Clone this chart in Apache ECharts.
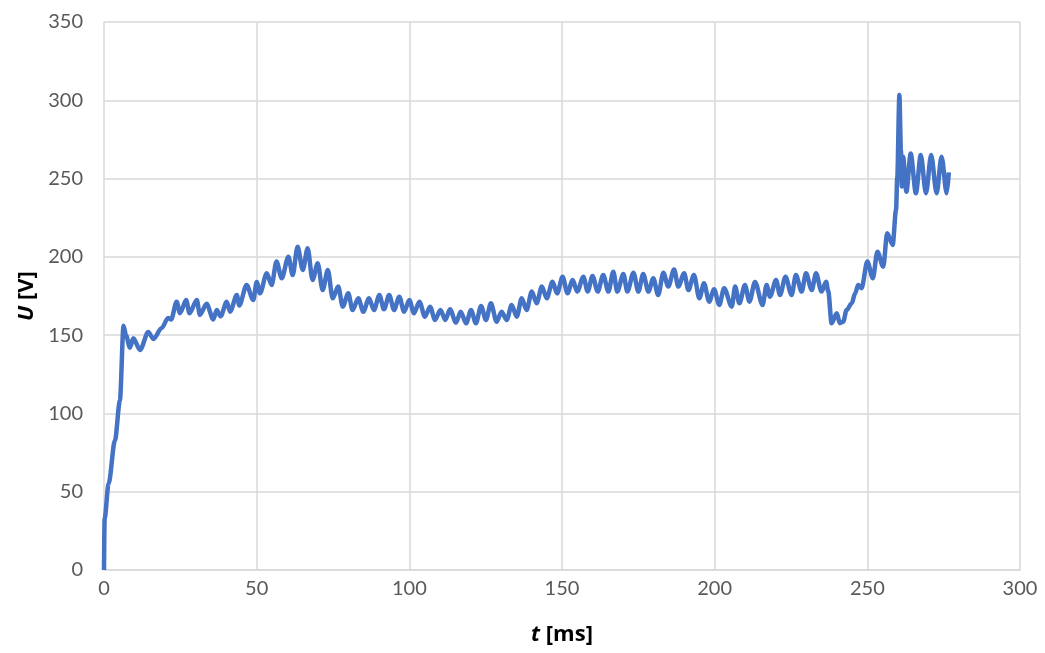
<!DOCTYPE html>
<html>
<head>
<meta charset="utf-8">
<script src="https://cdn.jsdelivr.net/npm/echarts@6/dist/echarts.min.js"></script>
<style>
html,body{margin:0;padding:0;background:#fff;}
#chart{width:1045px;height:653px;}
</style>
</head>
<body>
<div id="chart"></div>
<script>
// time in ms
const timeMs = [
0,0.2,1.5,3.6,5.2,6.4,7.2,8.5,9.6,11.8,14.5,16.2,18.9,21,22,23.8,24.9,26.9,28,30.4,31.4,33.6,35.8,36.9,38.2,40.2,41.3,43.5,44.3,46.7,48.9,
50,51.1,53.3,54.9,56.5,58.2,60.4,61.8,63.4,65.1,66.7,68.3,70,71.6,73.3,74.9,76.7,78.2,80,81.4,83.3,84.9,86.8,88.4,90.2,91.7,93.4,95,96.7,98.3,
100,101.5,103.3,105.1,106.8,108.4,110.2,111.8,113.3,115.3,116.8,118.6,120.2,121.8,123.5,125.1,126.7,128.6,130.2,131.9,133.5,135.2,136.8,138.4,140.1,141.7,143.4,145,146.9,148.4,
150.2,151.8,153.5,155,157,158.4,160,161.7,163.5,165.2,166.8,168.1,170.1,171.4,173.4,175,176.6,178.3,179.9,181.5,183.2,184.8,186.7,188.1,190,191.4,193.2,195,196.5,198.2,
199.8,201.5,203.1,205.6,206.7,208.1,209.9,211.4,213.2,215.7,217,218.1,220.1,221.4,223.2,225.2,226.6,228.5,229.9,231.8,233.2,235,236.5,237.2,238.3,240,241,242.1,243.2,244.9,246,247,248.1,
250,251.8,253.3,255.2,256.5,258.3,259.4,259.8,260.5,261,261.3,261.7,262.8,264.2,265.9,267.5,269.2,270.9,272.7,274.3,276,276.7
];
// voltage in V
const voltage = [
0,33,55,83,108,156,150,142,148,140.5,152,147.5,154.6,161,160,171.4,164,172.4,164,172.4,163,170,160,166,162,171.4,165,175.6,169,182,172.4,
184,176.7,189.5,182,197,186.3,200,188.4,206.5,191.6,205.5,185.2,195.9,178.8,191.6,173.5,181,168.2,176.7,166,173.5,165,173.5,166,175.6,166.5,175.6,166,174.6,165,
172.4,164,171.4,161.8,168.2,159.7,166,159.7,166.5,158,165,157.6,166,157.6,168.6,159.7,170.3,158.6,165,159.7,169.3,161.8,173.5,166,177.8,170.3,181,173.5,184.1,176.7,
187.3,176.7,185.2,177.8,187.3,177.8,187.8,177.8,188.4,177.8,190.5,177.8,189,177.8,189.9,177.8,189,177.8,186.3,175.6,189.9,181,192,181,189.5,178.8,188.4,173.5,183.1,171.4,
179.3,169.3,180,168.2,181,170.3,182,171.4,184,169.3,182,174.6,185.2,175.6,187.3,175.6,188.4,177.8,189.5,178.8,189.5,177.8,184.1,178,157.6,164,157.6,158.6,166,170.3,176.7,182,180,
197,186.3,203.3,193.7,215,207.6,230,251,303.4,268,245,264,241.6,266,240.6,265,240.6,265,240.6,264,240.6,254
];
const xTicks = [0,50,100,150,200,250,300];
const yTicks = [0,50,100,150,200,250,300,350];

const seriesData = timeMs.map((t,i)=>[t, voltage[i]]);

const chart = echarts.init(document.getElementById('chart'), null, {renderer:'canvas'});
const labelFont = {color:'#595959', fontSize:20, fontFamily:'Lato'};
const titleFamily = '"Open Sans", "Noto Sans", sans-serif';
const titleRich = {
  i:{fontStyle:'italic', fontWeight:'bold', fontSize:22, color:'#000', fontFamily:titleFamily},
  b:{fontWeight:'bold', fontSize:22, color:'#000', fontFamily:titleFamily}
};
chart.setOption({
  animation:false,
  backgroundColor:'#fff',
  grid:{left:104, right:25, top:22, bottom:83, containLabel:false},
  xAxis:{
    type:'value', min:xTicks[0], max:xTicks[xTicks.length-1], interval:50,
    axisLine:{show:true, lineStyle:{color:'#d9d9d9', width:1.5}},
    axisTick:{show:false},
    splitLine:{show:true, lineStyle:{color:'#d9d9d9', width:1.5}},
    axisLabel:Object.assign({margin:9}, labelFont),
    name:'{i|t}{b| [ms]}', nameLocation:'middle', nameGap:54,
    nameTextStyle:{fontSize:22, fontWeight:'bold', color:'#000', fontFamily:titleFamily, rich:titleRich}
  },
  yAxis:{
    type:'value', min:yTicks[0], max:yTicks[yTicks.length-1], interval:50,
    axisLine:{show:false},
    axisTick:{show:false},
    splitLine:{show:true, lineStyle:{color:'#d9d9d9', width:1.5}},
    axisLabel:Object.assign({margin:21}, labelFont),
    name:'{i|U}{b| [V]}', nameLocation:'middle', nameGap:52, nameRotate:90,
    nameTextStyle:{fontSize:22, fontWeight:'bold', color:'#000', fontFamily:titleFamily, rich:titleRich}
  },
  series:[{
    type:'line', data:seriesData, showSymbol:false, smooth:0.3, smoothMonotone:'x',
    lineStyle:{color:'#4472C4', width:4.5}, itemStyle:{color:'#4472C4'}
  }]
});
</script>
</body>
</html>
